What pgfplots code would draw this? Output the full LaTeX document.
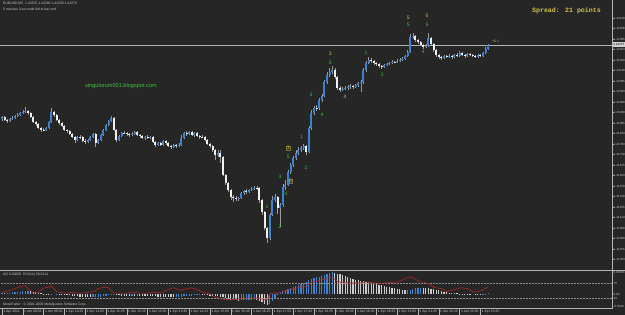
\documentclass[border=0pt]{standalone}
\usepackage{pgfplots}
\usepackage{pgfplotstable}
\pgfplotsset{compat=1.18}
\usepackage{fontspec}
\setmainfont{Liberation Sans}
\newfontfamily\monofont{Liberation Mono}
\definecolor{bg}{HTML}{262626}
\definecolor{upc}{HTML}{3C82D2}
\definecolor{dnc}{HTML}{F0F0F0}
\definecolor{wick}{HTML}{9A9A9A}
\definecolor{linec}{HTML}{B4B4B4}
\definecolor{txt}{HTML}{C8C8C8}
\definecolor{grn}{HTML}{3CC83C}
\definecolor{yel}{HTML}{D2C24A}
\definecolor{rsic}{HTML}{B42828}

\pgfplotstableread{
i o h l c
0 1.41905 1.41920 1.41895 1.41915
1 1.41915 1.41920 1.41895 1.41900
2 1.41900 1.41905 1.41885 1.41895
3 1.41895 1.41910 1.41890 1.41905
4 1.41905 1.41920 1.41900 1.41910
5 1.41910 1.41925 1.41905 1.41920
6 1.41920 1.41935 1.41915 1.41925
7 1.41925 1.41940 1.41920 1.41935
8 1.41935 1.41950 1.41930 1.41940
9 1.41940 1.41965 1.41935 1.41945
10 1.41945 1.41950 1.41925 1.41935
11 1.41935 1.41940 1.41910 1.41915
12 1.41915 1.41920 1.41885 1.41890
13 1.41890 1.41895 1.41870 1.41880
14 1.41880 1.41885 1.41855 1.41860
15 1.41860 1.41865 1.41840 1.41850
16 1.41850 1.41860 1.41845 1.41850
17 1.41850 1.41865 1.41845 1.41860
18 1.41860 1.41895 1.41855 1.41890
19 1.41890 1.41960 1.41885 1.41940
20 1.41940 1.41945 1.41915 1.41925
21 1.41925 1.41930 1.41895 1.41900
22 1.41900 1.41905 1.41875 1.41885
23 1.41885 1.41890 1.41865 1.41870
24 1.41870 1.41875 1.41845 1.41850
25 1.41850 1.41855 1.41835 1.41845
26 1.41845 1.41850 1.41825 1.41830
27 1.41830 1.41835 1.41810 1.41815
28 1.41815 1.41820 1.41785 1.41800
29 1.41800 1.41820 1.41795 1.41815
30 1.41815 1.41825 1.41805 1.41815
31 1.41815 1.41820 1.41790 1.41795
32 1.41795 1.41805 1.41780 1.41790
33 1.41790 1.41805 1.41785 1.41800
34 1.41800 1.41820 1.41795 1.41815
35 1.41815 1.41835 1.41810 1.41830
36 1.41830 1.41835 1.41765 1.41785
37 1.41785 1.41805 1.41780 1.41800
38 1.41800 1.41830 1.41795 1.41825
39 1.41825 1.41855 1.41820 1.41850
40 1.41850 1.41880 1.41845 1.41875
41 1.41875 1.41900 1.41870 1.41895
42 1.41895 1.41920 1.41890 1.41910
43 1.41910 1.41915 1.41845 1.41850
44 1.41850 1.41855 1.41790 1.41800
45 1.41800 1.41825 1.41795 1.41820
46 1.41820 1.41840 1.41815 1.41835
47 1.41835 1.41845 1.41830 1.41835
48 1.41835 1.41840 1.41820 1.41830
49 1.41830 1.41835 1.41815 1.41825
50 1.41825 1.41840 1.41820 1.41830
51 1.41830 1.41845 1.41825 1.41840
52 1.41840 1.41845 1.41820 1.41825
53 1.41825 1.41830 1.41810 1.41820
54 1.41820 1.41825 1.41805 1.41810
55 1.41810 1.41820 1.41800 1.41815
56 1.41815 1.41825 1.41805 1.41810
57 1.41810 1.41820 1.41805 1.41815
58 1.41815 1.41820 1.41785 1.41790
59 1.41790 1.41795 1.41765 1.41775
60 1.41775 1.41790 1.41770 1.41785
61 1.41785 1.41790 1.41770 1.41775
62 1.41775 1.41800 1.41770 1.41795
63 1.41795 1.41800 1.41775 1.41785
64 1.41785 1.41790 1.41765 1.41770
65 1.41770 1.41775 1.41755 1.41765
66 1.41765 1.41780 1.41760 1.41775
67 1.41775 1.41780 1.41760 1.41770
68 1.41770 1.41785 1.41765 1.41775
69 1.41775 1.41825 1.41770 1.41810
70 1.41810 1.41840 1.41805 1.41835
71 1.41835 1.41845 1.41820 1.41830
72 1.41830 1.41845 1.41825 1.41840
73 1.41840 1.41845 1.41820 1.41825
74 1.41825 1.41840 1.41815 1.41835
75 1.41835 1.41840 1.41815 1.41820
76 1.41820 1.41825 1.41805 1.41815
77 1.41815 1.41825 1.41810 1.41815
78 1.41815 1.41820 1.41795 1.41800
79 1.41800 1.41805 1.41775 1.41780
80 1.41780 1.41785 1.41760 1.41770
81 1.41770 1.41775 1.41740 1.41750
82 1.41750 1.41755 1.41700 1.41725
83 1.41725 1.41750 1.41715 1.41735
84 1.41735 1.41750 1.41685 1.41715
85 1.41715 1.41720 1.41620 1.41625
86 1.41625 1.41630 1.41575 1.41585
87 1.41585 1.41590 1.41540 1.41550
88 1.41550 1.41555 1.41500 1.41515
89 1.41515 1.41525 1.41490 1.41510
90 1.41510 1.41520 1.41495 1.41505
91 1.41505 1.41515 1.41495 1.41510
92 1.41510 1.41540 1.41505 1.41535
93 1.41535 1.41550 1.41525 1.41545
94 1.41545 1.41555 1.41530 1.41540
95 1.41540 1.41555 1.41535 1.41550
96 1.41550 1.41565 1.41545 1.41555
97 1.41555 1.41570 1.41550 1.41560
98 1.41560 1.41570 1.41550 1.41560
99 1.41560 1.41565 1.41485 1.41500
100 1.41500 1.41505 1.41425 1.41440
101 1.41440 1.41445 1.41350 1.41360
102 1.41360 1.41365 1.41285 1.41310
103 1.41310 1.41435 1.41300 1.41425
104 1.41425 1.41520 1.41420 1.41500
105 1.41500 1.41530 1.41490 1.41515
106 1.41515 1.41520 1.41430 1.41460
107 1.41460 1.41485 1.41365 1.41475
108 1.41475 1.41580 1.41465 1.41565
109 1.41565 1.41600 1.41550 1.41575
110 1.41575 1.41650 1.41570 1.41640
111 1.41640 1.41685 1.41630 1.41675
112 1.41675 1.41720 1.41665 1.41710
113 1.41710 1.41750 1.41700 1.41735
114 1.41735 1.41765 1.41725 1.41750
115 1.41750 1.41770 1.41740 1.41760
116 1.41760 1.41780 1.41750 1.41770
117 1.41770 1.41775 1.41725 1.41740
118 1.41740 1.41870 1.41735 1.41860
119 1.41860 1.41950 1.41850 1.41935
120 1.41935 1.41970 1.41925 1.41960
121 1.41960 1.41975 1.41945 1.41960
122 1.41960 1.42010 1.41950 1.42000
123 1.42000 1.42030 1.41990 1.42020
124 1.42020 1.42100 1.42015 1.42090
125 1.42090 1.42140 1.42080 1.42125
126 1.42125 1.42160 1.42115 1.42140
127 1.42140 1.42170 1.42130 1.42150
128 1.42150 1.42160 1.42105 1.42115
129 1.42115 1.42120 1.42050 1.42060
130 1.42060 1.42070 1.42040 1.42050
131 1.42050 1.42065 1.42045 1.42055
132 1.42055 1.42070 1.42050 1.42060
133 1.42060 1.42075 1.42050 1.42065
134 1.42065 1.42080 1.42055 1.42070
135 1.42070 1.42075 1.42055 1.42065
136 1.42065 1.42080 1.42060 1.42075
137 1.42075 1.42090 1.42065 1.42085
138 1.42085 1.42100 1.42040 1.42090
139 1.42090 1.42160 1.42080 1.42150
140 1.42150 1.42195 1.42140 1.42185
141 1.42185 1.42215 1.42180 1.42200
142 1.42200 1.42210 1.42185 1.42195
143 1.42195 1.42200 1.42175 1.42185
144 1.42185 1.42190 1.42170 1.42180
145 1.42180 1.42185 1.42160 1.42170
146 1.42170 1.42175 1.42155 1.42165
147 1.42165 1.42180 1.42160 1.42175
148 1.42175 1.42185 1.42170 1.42180
149 1.42180 1.42190 1.42175 1.42185
150 1.42185 1.42200 1.42180 1.42190
151 1.42190 1.42195 1.42185 1.42190
152 1.42190 1.42205 1.42185 1.42195
153 1.42195 1.42210 1.42190 1.42200
154 1.42200 1.42215 1.42195 1.42205
155 1.42205 1.42225 1.42200 1.42220
156 1.42220 1.42250 1.42215 1.42240
157 1.42240 1.42330 1.42235 1.42315
158 1.42315 1.42335 1.42305 1.42320
159 1.42320 1.42325 1.42290 1.42300
160 1.42300 1.42305 1.42280 1.42290
161 1.42290 1.42295 1.42270 1.42275
162 1.42275 1.42280 1.42255 1.42265
163 1.42265 1.42280 1.42260 1.42270
164 1.42270 1.42335 1.42265 1.42310
165 1.42310 1.42315 1.42275 1.42280
166 1.42280 1.42285 1.42240 1.42250
167 1.42250 1.42255 1.42215 1.42225
168 1.42225 1.42230 1.42205 1.42215
169 1.42215 1.42220 1.42200 1.42210
170 1.42210 1.42225 1.42205 1.42220
171 1.42220 1.42225 1.42210 1.42215
172 1.42215 1.42230 1.42210 1.42220
173 1.42220 1.42225 1.42205 1.42215
174 1.42215 1.42230 1.42210 1.42225
175 1.42225 1.42235 1.42215 1.42220
176 1.42220 1.42245 1.42215 1.42235
177 1.42235 1.42240 1.42220 1.42225
178 1.42225 1.42230 1.42210 1.42220
179 1.42220 1.42235 1.42215 1.42230
180 1.42230 1.42235 1.42220 1.42225
181 1.42225 1.42230 1.42215 1.42220
182 1.42220 1.42225 1.42210 1.42215
183 1.42215 1.42230 1.42210 1.42225
184 1.42225 1.42230 1.42215 1.42220
185 1.42220 1.42240 1.42215 1.42235
186 1.42235 1.42265 1.42230 1.42255
187 1.42255 1.42280 1.42250 1.42275
}\candles

\pgfplotstableread{
i ao up rsi
0 0.00010 1 46
1 0.00010 0 47
2 0.00012 1 48
3 0.00013 1 50
4 0.00015 1 52
5 0.00017 1 55
6 0.00020 1 58
7 0.00022 1 60
8 0.00025 1 62
9 0.00027 1 63
10 0.00028 1 55
11 0.00026 0 49
12 0.00022 0 43
13 0.00017 0 44
14 0.00012 0 45
15 0.00006 0 52
16 0.00001 0 56
17 -0.00003 0 58
18 -0.00005 0 59
19 -0.00003 1 62
20 0.00000 1 55
21 0.00002 1 47
22 0.00001 0 45
23 -0.00001 0 44
24 -0.00004 0 43
25 -0.00008 0 43
26 -0.00012 0 44
27 -0.00016 0 46
28 -0.00020 0 44
29 -0.00024 0 43
30 -0.00027 0 43
31 -0.00030 0 43
32 -0.00031 0 44
33 -0.00032 0 45
34 -0.00032 0 46
35 -0.00031 1 46
36 -0.00030 1 50
37 -0.00028 1 55
38 -0.00026 1 57
39 -0.00023 1 58
40 -0.00019 1 59
41 -0.00015 1 57
42 -0.00011 1 50
43 -0.00010 1 43
44 -0.00012 0 43
45 -0.00015 0 43
46 -0.00017 0 43
47 -0.00019 0 43
48 -0.00020 0 43
49 -0.00020 0 44
50 -0.00019 1 46
51 -0.00019 0 45
52 -0.00018 1 44
53 -0.00018 0 43
54 -0.00018 0 43
55 -0.00019 0 43
56 -0.00019 0 43
57 -0.00020 0 44
58 -0.00022 0 46
59 -0.00024 0 45
60 -0.00026 0 44
61 -0.00027 0 43
62 -0.00028 0 46
63 -0.00029 0 50
64 -0.00030 0 52
65 -0.00031 0 56
66 -0.00031 0 57
67 -0.00030 1 55
68 -0.00029 1 52
69 -0.00027 1 51
70 -0.00024 1 53
71 -0.00021 1 54
72 -0.00018 1 56
73 -0.00016 1 57
74 -0.00014 1 55
75 -0.00013 1 52
76 -0.00012 1 50
77 -0.00012 0 46
78 -0.00013 0 44
79 -0.00014 0 43
80 -0.00016 0 40
81 -0.00018 0 35
82 -0.00021 0 33
83 -0.00024 0 31
84 -0.00028 0 28
85 -0.00035 0 27
86 -0.00045 0 26
87 -0.00055 0 25
88 -0.00060 0 25
89 -0.00063 0 26
90 -0.00065 0 26
91 -0.00066 0 27
92 -0.00064 1 29
93 -0.00061 1 30
94 -0.00059 1 29
95 -0.00057 1 30
96 -0.00056 1 30
97 -0.00055 1 30
98 -0.00057 0 30
99 -0.00068 0 28
100 -0.00083 0 27
101 -0.00098 0 26
102 -0.00110 0 26
103 -0.00100 1 40
104 -0.00075 1 43
105 -0.00045 1 44
106 -0.00015 1 42
107 0.00010 1 45
108 0.00025 1 47
109 0.00038 1 49
110 0.00050 1 51
111 0.00060 1 52
112 0.00070 1 54
113 0.00080 1 56
114 0.00090 1 58
115 0.00100 1 60
116 0.00110 1 62
117 0.00120 1 60
118 0.00135 1 68
119 0.00150 1 71
120 0.00160 1 73
121 0.00165 1 74
122 0.00170 1 77
123 0.00178 1 78
124 0.00188 1 81
125 0.00200 1 83
126 0.00210 1 84
127 0.00215 1 84
128 0.00210 0 80
129 0.00200 0 74
130 0.00195 0 72
131 0.00185 0 72
132 0.00175 0 71
133 0.00165 0 70
134 0.00160 0 70
135 0.00150 0 70
136 0.00140 0 70
137 0.00135 0 70
138 0.00130 0 70
139 0.00125 0 72
140 0.00120 0 73
141 0.00118 0 72
142 0.00112 0 71
143 0.00105 0 70
144 0.00100 0 70
145 0.00093 0 69
146 0.00086 0 69
147 0.00080 0 70
148 0.00074 0 70
149 0.00068 0 71
150 0.00062 0 72
151 0.00056 0 72
152 0.00050 0 73
153 0.00045 0 75
154 0.00040 0 78
155 0.00038 0 82
156 0.00039 1 84
157 0.00043 1 86
158 0.00050 1 84
159 0.00055 1 80
160 0.00058 1 76
161 0.00059 1 73
162 0.00058 0 72
163 0.00056 0 70
164 0.00055 0 68
165 0.00052 0 63
166 0.00048 0 59
167 0.00042 0 57
168 0.00035 0 56
169 0.00028 0 55
170 0.00022 0 51
171 0.00016 0 47
172 0.00012 0 49
173 0.00009 0 51
174 0.00007 0 52
175 0.00005 0 54
176 0.00004 0 57
177 0.00003 0 57
178 0.00002 0 56
179 0.00001 0 55
180 0.00001 0 51
181 0.00000 0 47
182 -0.00001 0 46
183 -0.00002 0 47
184 -0.00002 0 49
185 -0.00001 1 52
186 0.00002 1 56
187 0.00005 1 59
}\ind

\newcommand{\tinyf}{\fontsize{3.4}{4}\selectfont}
\newcommand{\scalef}{\fontsize{3.0}{3.5}\selectfont}

\begin{document}
\begin{tikzpicture}
\fill[bg] (0,0) rectangle (625pt,315pt);

% ---------- main price panel ----------
\begin{axis}[
  at={(0pt,46pt)}, anchor=south west, scale only axis,
  width=612pt, height=269pt,
  xmin=-0.769, xmax=234.6, ymin=1.41155, ymax=1.42500,
  axis line style={draw=none},
  xtick=\empty,
  ytick pos=right, yticklabel pos=right,
  ytick={1.424100,1.423575,1.423050,1.422525,1.422000,1.421475,1.420950,1.420425,1.419900,1.419375,1.418850,1.418325,1.417800,1.417275,1.416750,1.416225,1.415700,1.415175,1.414650,1.414125,1.413600,1.413075,1.412550,1.412025},
  yticklabels={1.42410,1.42358,1.42305,1.42253,1.42200,1.42148,1.42095,1.42043,1.41990,1.41938,1.41885,1.41833,1.41780,1.41728,1.41675,1.41623,1.41570,1.41518,1.41465,1.41413,1.41360,1.41308,1.41255,1.41203},
  yticklabel style={anchor=west, font=\scalef, text=txt, inner sep=0pt, xshift=0.3pt},
  tick align=outside, major tick length=1.5pt, tick style={draw=linec, line width=0.4pt},
  clip=true,
]
% bid line
\addplot[linec, line width=0.6pt, forget plot] coordinates {(-1,1.42275) (236,1.42275)};
% wicks: from low, length high-low
\addplot[wick, line width=0.5pt, forget plot, -,
  quiver={u=0, v={\thisrow{h}-\thisrow{l}}, scale arrows=1}]
  table[x=i, y=l] {\candles};
% up bodies (close above open)
\addplot[upc, line width=1.9pt, line cap=butt, forget plot, -, unbounded coords=discard,
  restrict expr to domain={\thisrow{c}-\thisrow{o}}{0.0000001:1},
  quiver={u=0, v={\thisrow{c}-\thisrow{o}}, scale arrows=1}]
  table[x=i, y=o] {\candles};
% down bodies and doji
\addplot[dnc, line width=1.9pt, line cap=butt, forget plot, -, unbounded coords=discard,
  restrict expr to domain={\thisrow{o}-\thisrow{c}}{-0.0000001:1},
  quiver={u=0, v={min(\thisrow{c}-\thisrow{o},-0.000012)}, scale arrows=1}]
  table[x=i, y=o] {\candles};

% wave labels
\begin{scope}[every node/.style={font=\fontsize{5}{6}\selectfont, inner sep=0pt}]
\node[text=grn] at (axis cs:101.9,1.41465) {1};
\node[text=grn] at (axis cs:106.9,1.41365) {2};
\node[text=grn] at (axis cs:106.9,1.41615) {3};
\node[text=grn] at (axis cs:109.2,1.41530) {4};
\node[text=yel, draw=yel!60!black, line width=0.3pt, inner sep=0.4pt] at (axis cs:111.0,1.41595) {5};
\node[text=yel, draw=yel!60!black, line width=0.3pt, inner sep=0.4pt] at (axis cs:110.1,1.41760) {3};
\node[text=grn] at (axis cs:110.1,1.41715) {5};
\node[text=grn] at (axis cs:115.3,1.41815) {1};
\node[text=grn] at (axis cs:116.9,1.41660) {2};
\node[text=grn] at (axis cs:118.8,1.42025) {3};
\node[text=grn] at (axis cs:123.1,1.41925) {4};
\node[text=grn] at (axis cs:126.2,1.42185) {5};
\node[text=yel] at (axis cs:126.2,1.42230) {3};
\node[text=yel] at (axis cs:131.9,1.42015) {4};
\node[text=grn] at (axis cs:140.0,1.42235) {1};
\node[text=grn] at (axis cs:146.2,1.42125) {2};
\node[text=grn] at (axis cs:156.2,1.42375) {5};
\node[text=yel] at (axis cs:156.2,1.42410) {5};
\node[text=grn] at (axis cs:161.9,1.42240) {4};
\node[text=grn] at (axis cs:163.5,1.42375) {5};
\node[text=yel] at (axis cs:163.5,1.42420) {5};
\end{scope}
\end{axis}

% ---------- indicator panel (y 270 .. 308 px) ----------
\begin{axis}[
  at={(0pt,7pt)}, anchor=south west, scale only axis,
  width=612pt, height=38pt,
  xmin=-0.769, xmax=234.6, ymin=-0.0014, ymax=0.0024,
  axis line style={draw=none},
  ytick=\empty,
  xtick={0,8,...,184},
  xticklabels={1 Apr 2011,1 Apr 09:05,1 Apr 09:45,1 Apr 10:25,1 Apr 11:05,1 Apr 11:45,1 Apr 12:25,1 Apr 13:05,1 Apr 13:45,1 Apr 14:25,1 Apr 15:05,1 Apr 15:45,1 Apr 16:25,1 Apr 17:05,1 Apr 17:45,1 Apr 18:25,1 Apr 19:05,1 Apr 19:45,1 Apr 20:25,1 Apr 21:05,1 Apr 21:45,1 Apr 22:25,1 Apr 23:05,1 Apr 23:45},
  xtick pos=bottom, tick align=outside, major tick length=7pt,
  tick style={draw=linec, line width=0.4pt},
  xticklabel style={anchor=north west, font=\tinyf, text=txt, inner sep=0pt, xshift=1.2pt, yshift=5.2pt},
  clip=true,
]
\addplot[ycomb, upc, line width=1.2pt, forget plot, unbounded coords=discard,
  restrict expr to domain={\thisrow{up}}{0.5:1.5}] table[x=i, y=ao] {\ind};
\addplot[ycomb, dnc!85!black, line width=1.2pt, forget plot, unbounded coords=discard,
  restrict expr to domain={\thisrow{up}}{-0.5:0.5}] table[x=i, y=ao] {\ind};
\end{axis}
\begin{axis}[
  at={(0pt,7pt)}, anchor=south west, scale only axis,
  width=612pt, height=38pt,
  xmin=-0.769, xmax=234.6, ymin=3.33, ymax=104.67,
  hide axis, clip=true,
]
\addplot[linec!80!black, densely dotted, line width=0.5pt, forget plot] coordinates {(-1,70) (236,70)};
\addplot[linec!80!black, densely dotted, line width=0.5pt, forget plot] coordinates {(-1,30) (236,30)};
\addplot[rsic, line width=0.6pt, forget plot] table[x=i, y=rsi] {\ind};
\end{axis}

% ---------- frame lines and texts (pixel coordinates, y down) ----------
\begin{scope}[shift={(0pt,315pt)}, x=1pt, y=-1pt]
\draw[linec, line width=0.7pt] (0,270) -- (625,270);
\draw[linec, line width=0.6pt] (0,308.2) -- (612.5,308.2);
\draw[linec, line width=0.6pt] (612.5,0) -- (612.5,308.2);
% current price box
\fill[linec!60!white] (612.8,42) rectangle (625,47.4);
\node[anchor=west, font=\scalef, text=black, inner sep=0pt] at (613.2,44.7) {1.42275};
% header
\node[anchor=west, font=\tinyf, text=txt, inner sep=0pt] at (3,3.5) {EURUSD,M5\ \ 1.42255 1.42280 1.42250 1.42275};
\node[anchor=west, font=\tinyf, text=txt, inner sep=0pt] at (3,9) {0 minutes 3 seconds left to bar end};
\node[anchor=east, font=\monofont\bfseries\fontsize{6.6}{7}\selectfont, text=yel, inner sep=0pt] at (601,10.5) {Spread: 21 points};
\node[anchor=west, font=\fontsize{5.6}{6}\selectfont, text=grn, inner sep=0pt] at (85,86) {singulorum001.blogspot.com};
\node[anchor=west, font=\fontsize{3.4}{4}\selectfont, text=yel, inner sep=0pt] at (492,41.5) {+0.1};
% indicator texts
\node[anchor=west, font=\tinyf, text=txt, inner sep=0pt] at (3,275) {AO 0.00005\ \ RSI(14) 58.6214};
\node[anchor=west, font=\tinyf, text=txt, inner sep=0pt] at (3,305) {MetaTrader - \textcopyright{} 2001-2009 MetaQuotes Software Corp.};
\node[anchor=west, font=\scalef, text=txt, inner sep=0pt] at (613.5,272.5) {0.00243};
\node[anchor=west, font=\scalef, text=txt, inner sep=0pt] at (613.5,283) {70};
\node[anchor=west, font=\scalef, text=txt, inner sep=0pt] at (613.5,294) {0.00};
\node[anchor=west, font=\scalef, text=txt, inner sep=0pt] at (613.5,298) {30};
\node[anchor=west, font=\scalef, text=txt, inner sep=0pt] at (613.5,306.5) {-0.0014};
\end{scope}
\pgfresetboundingbox
\path[use as bounding box] (0,0) rectangle (625pt,315pt);
\end{tikzpicture}
\end{document}
